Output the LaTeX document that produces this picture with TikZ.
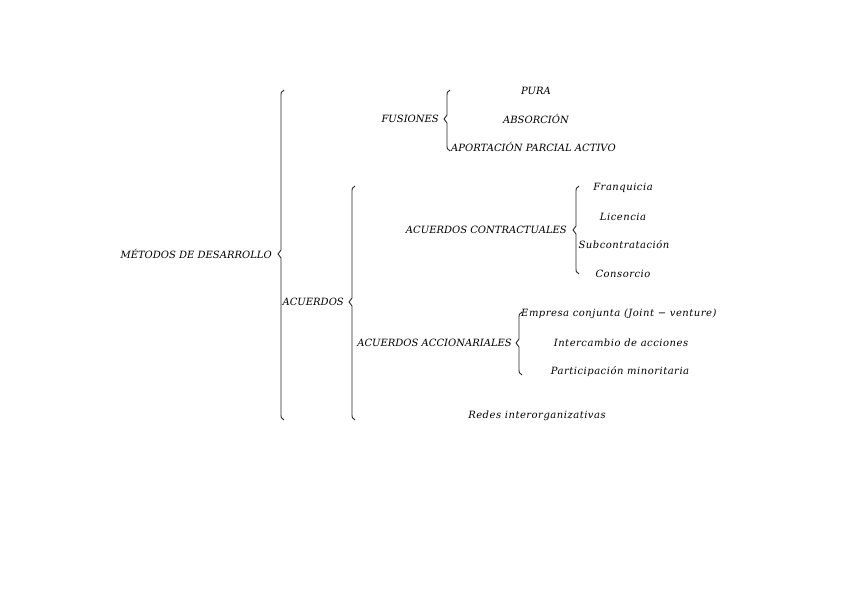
\documentclass[tikz,border=0pt]{standalone}
\usepackage{fontspec}
\setmainfont{DejaVu Serif}
\begin{document}
\begin{tikzpicture}[x=1pt,y=-1pt,
  lbl/.style={font=\itshape\fontsize{10}{12}\selectfont, inner sep=0pt, text=black},
  lw/.style={lbl, font=\itshape\fontsize{10}{12}\selectfont\addfontfeature{LetterSpace=5}},
  bracel/.style={draw=black!85, line width=0.9pt}]
\useasboundingbox (0,0) rectangle (848,599);
\newcommand{\mybrace}[5]{%
  \coordinate (#1t) at (#2+3,#3);
  \coordinate (#1b) at (#2+3,#5);
  \draw[bracel] (#1t) .. controls (#2,#3+1) and (#2,#3+3) .. (#2,#3+7)
    -- (#2,#4-4) -- (#2-3,#4) -- (#2,#4+4) -- (#2,#5-7)
    .. controls (#2,#5-3) and (#2,#5-1) .. (#1b);}
% texts
\node[lbl, anchor=east] (met) at (272,254) {MÉTODOS DE DESARROLLO};
\mybrace{b1}{281}{90}{254}{420}
\node[lbl, anchor=east] (fus) at (439,119) {FUSIONES};
\mybrace{b2}{447}{90}{119}{151}
\node[lbl] (pura) at (536,91) {PURA};
\node[lbl] (abs) at (536,119) {ABSORCIÓN};
\node[lbl, anchor=west] (apo) at (451,147) {APORTACIÓN PARCIAL ACTIVO};
\node[lbl, anchor=east] (acu) at (344,302) {ACUERDOS};
\mybrace{b3}{352}{186}{302}{420}
\node[lbl, anchor=east] (cont) at (567,230) {ACUERDOS CONTRACTUALES};
\mybrace{b4}{576}{186}{230}{274}
\node[lw] (fra) at (623,188) {Franquicia};
\node[lw] (lic) at (623,217) {Licencia};
\node[lw] (sub) at (624,245) {Subcontratación};
\node[lw] (cons) at (623,274) {Consorcio};
\node[lbl, anchor=east] (acc) at (512,343) {ACUERDOS ACCIONARIALES};
\mybrace{b5}{519}{312}{343}{375}
\node[lw, anchor=west] (emp) at (521,314) {Empresa conjunta (Joint − venture)};
\node[lw] (int) at (621,343) {Intercambio de acciones};
\node[lw] (par) at (620,372) {Participación minoritaria};
\node[lw] (red) at (537,416) {Redes interorganizativas};
\end{tikzpicture}
\end{document}
